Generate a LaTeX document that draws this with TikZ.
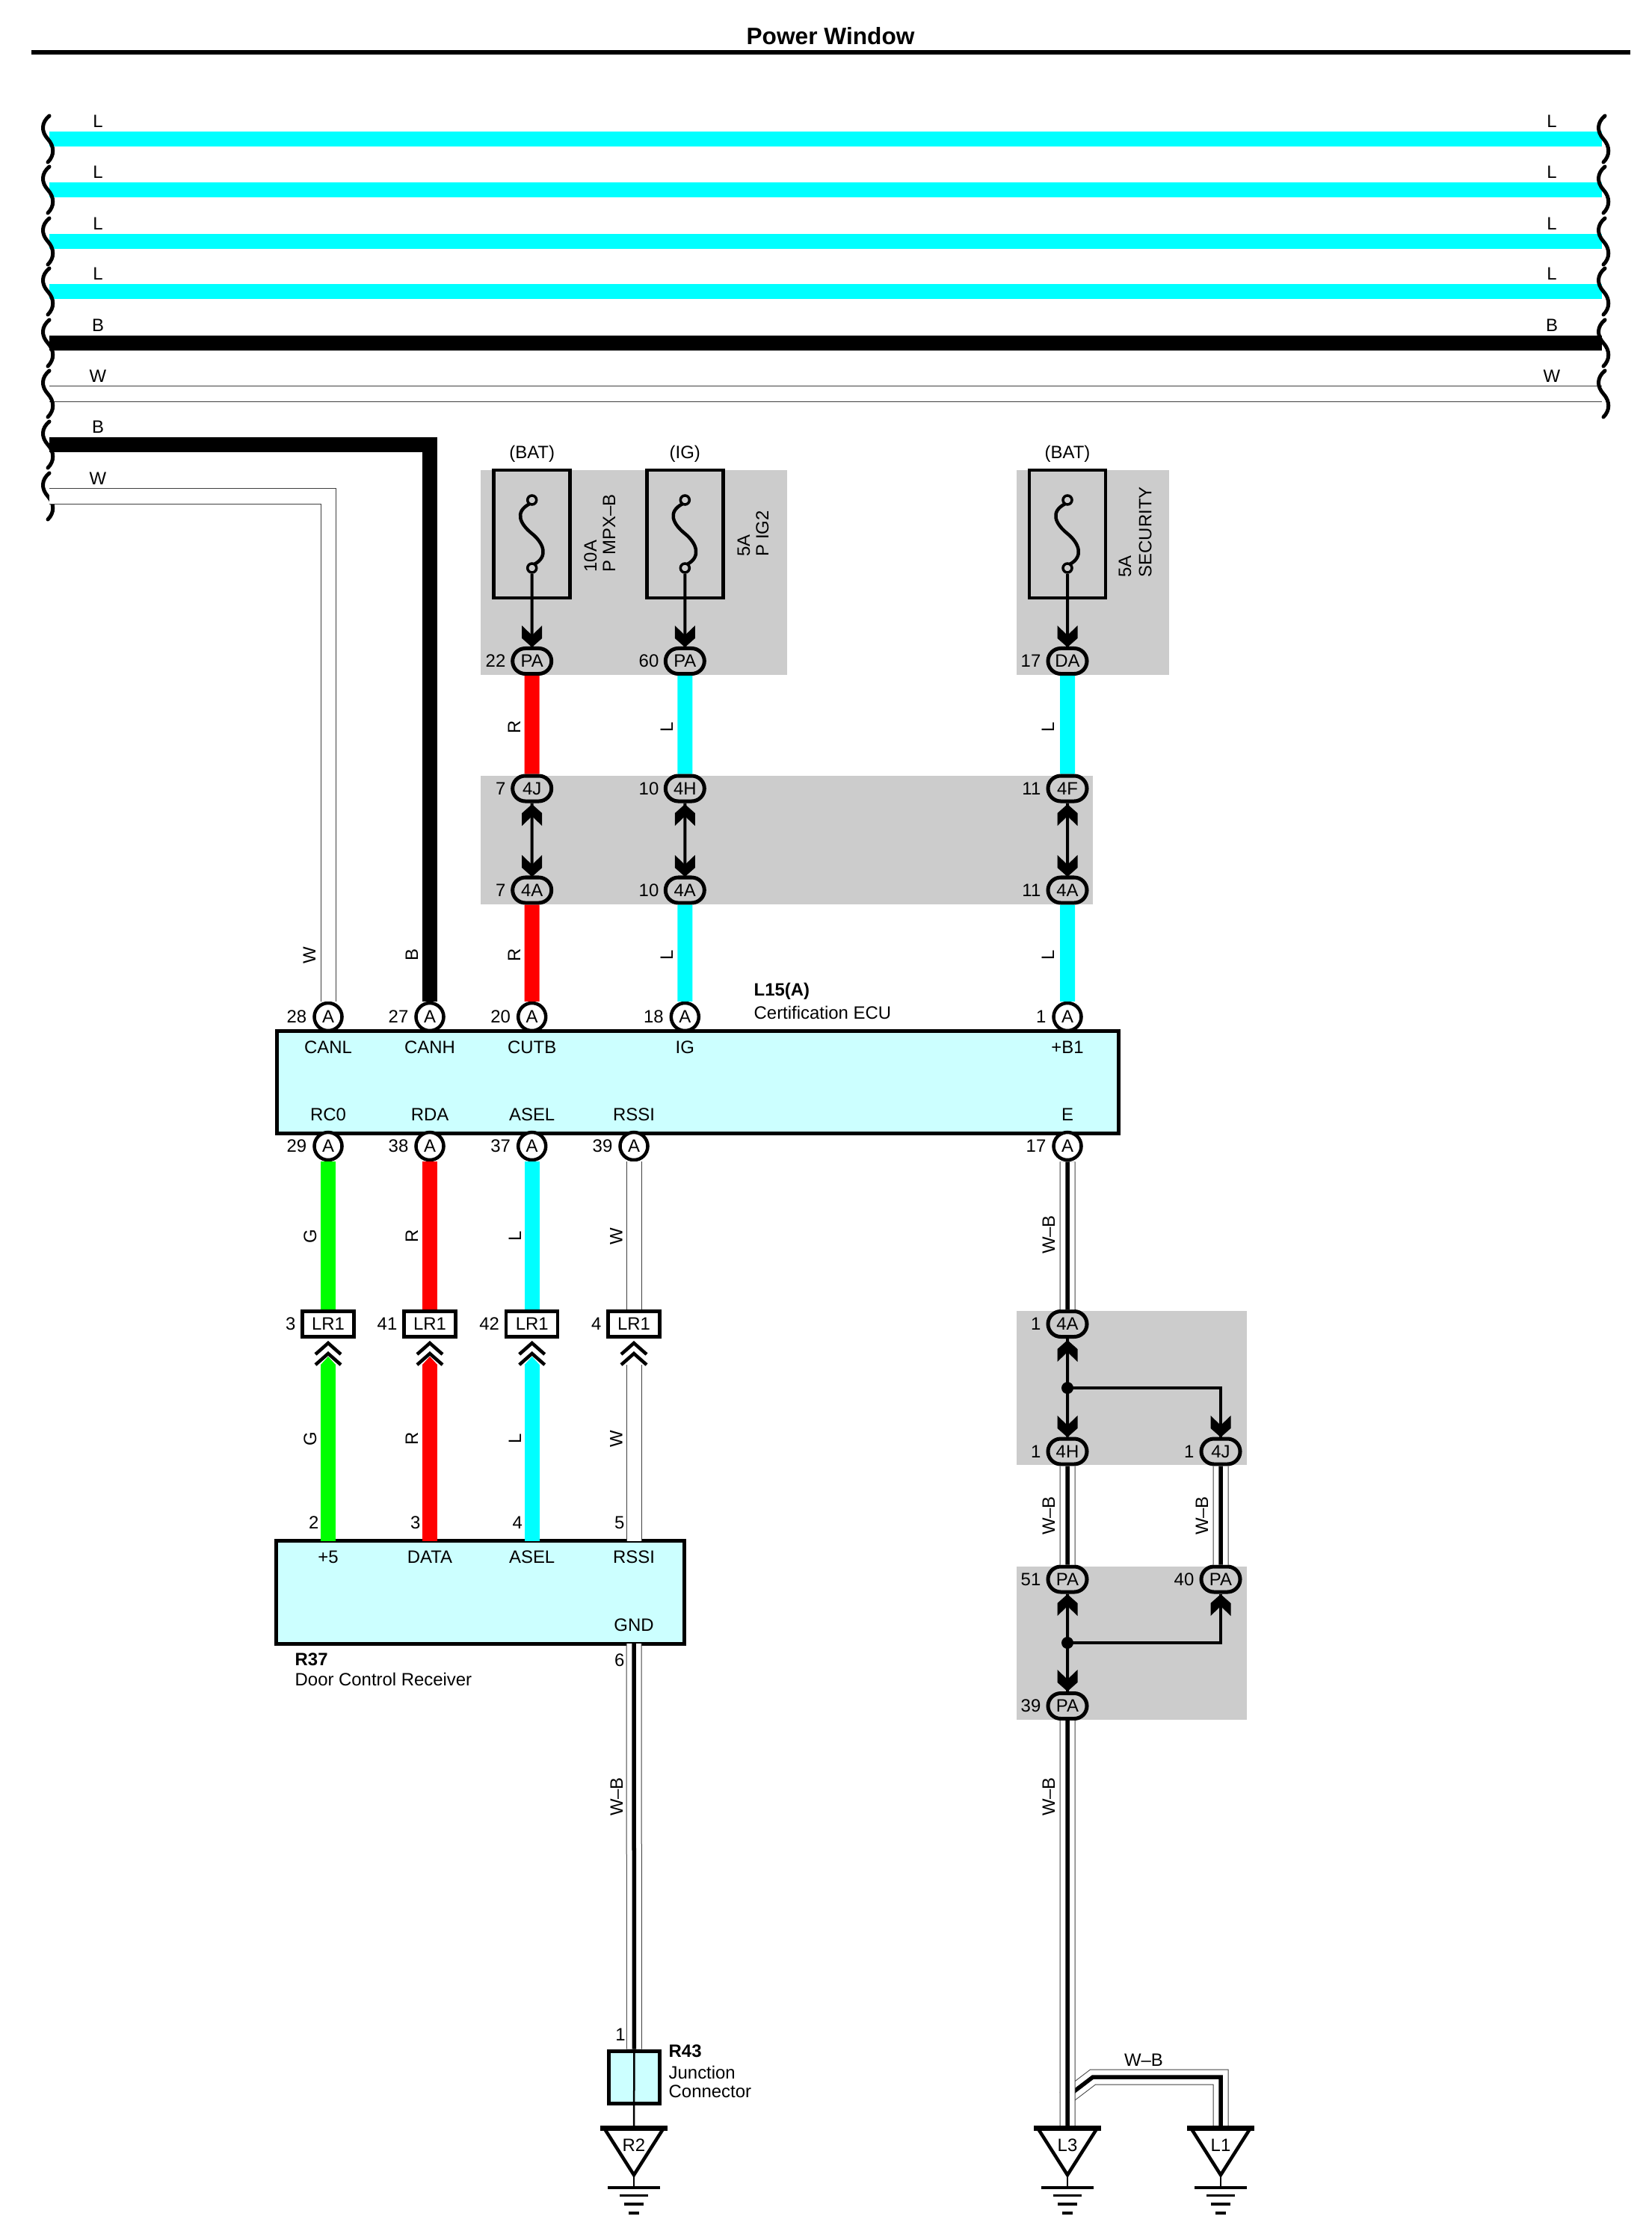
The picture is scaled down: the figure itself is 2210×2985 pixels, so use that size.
\documentclass[tikz,border=0pt]{standalone}
\usepackage{fontspec}
\setmainfont{Liberation Sans}
\usetikzlibrary{shapes.misc}
\definecolor{boxgray}{HTML}{CCCCCC}
\definecolor{ecucyan}{HTML}{CCFFFF}
\definecolor{linecyan}{HTML}{00FFFF}
\definecolor{linered}{HTML}{FF0000}
\definecolor{linegreen}{HTML}{00FF00}
\tikzset{
	every node/.style={font=\fontsize{6.8}{8}\selectfont,inner sep=0pt},
	num/.style={anchor=east},
	sidetext/.style={rotate=90},
	fusetext/.style={rotate=90,anchor=west},
	nametext/.style={anchor=west},
	pinA/.style={circle,draw,fill=white,line width=.045cm,minimum size=.37cm},
	oval/.style={rounded rectangle,draw,line width=.05cm,minimum width=.52cm,minimum height=.34cm},
	lrbox/.style={rectangle,draw,fill=white,line width=.045cm,minimum width=.69cm,minimum height=.34cm},
	ecubox/.style={rectangle,draw,fill=ecucyan,line width=.05cm},
	fusebox/.style={rectangle,draw,line width=.048cm,minimum width=1.02cm,minimum height=1.71cm},
	term/.style={circle,draw,line width=.035cm,minimum size=.12cm},
	wireL/.style={linecyan,line width=.2cm},
	wireR/.style={linered,line width=.2cm},
	wireG/.style={linegreen,line width=.2cm},
	wireB/.style={black,line width=.2cm},
	wireW/.style={black!75,line width=.01cm,double=white,double distance=.19cm},
	wireWB/.style={preaction={draw=black!75,line width=.01cm,double=white,double distance=.19cm},draw=black,line width=.055cm},
	feed/.style={line width=.04cm},
	pics/brk/.style={code={
		\draw[line width=.05cm,line cap=round] (2,-31) .. controls (-9,-22) and (-9,-10) .. (0,0) .. controls (9,10) and (9,22) .. (0,31);
	}},
	pics/headdn/.style={code={
		\fill (0,0) -- (13.5,-12) -- (13.5,-29) -- (0,-16) -- (-13.5,-29) -- (-13.5,-12) -- cycle;
	}},
	pics/headup/.style={code={
		\fill (0,0) -- (13.5,12) -- (13.5,29) -- (0,16) -- (-13.5,29) -- (-13.5,12) -- cycle;
	}},
	pics/lrup/.style={code={
		\fill[#1] (-10,29) -- (0,18) -- (10,29) -- cycle;
		\draw[line width=.045cm] (-17,15) -- (0,0) -- (17,15);
		\draw[line width=.045cm] (-17,29) -- (0,14) -- (17,29);
	}},
	pics/fusecurve/.style={code={
		\draw[line width=.045cm] (-3,5) .. controls (-24,16) and (-16,32) .. (0,45) .. controls (16,58) and (22,76) .. (3,86);
	}},
	pics/gnd/.style={code={
		\draw[line width=.045cm,line join=miter] (-40,0) -- (0,63) -- (40,0);
		\draw[line width=.07cm] (-45,0) -- (45,0);
		\draw[line width=.02cm] (0,63) -- (0,80);
		\draw[line width=.035cm] (-35,80) -- (35,80);
		\draw[line width=.035cm] (-19,90.5) -- (19,90.5);
		\draw[line width=.035cm] (-13,102) -- (13,102);
		\draw[line width=.035cm] (-7,114) -- (7,114);
	}},
}
\begin{document}
\begin{tikzpicture}[x=.01cm,y=-.01cm]
	\path[use as bounding box] (0,0) rectangle (2210,2985);
	\draw (1111,48) node [font=\fontsize{9}{10}\selectfont\bfseries] (title) {Power Window};
	\coordinate (ruleL) at (42,70);
	\coordinate (ruleR) at (2181,70);
	\draw[line width=.055cm] (ruleL) -- (ruleR);

	\fill[boxgray] (643,629) rectangle (1053,903);
	\fill[boxgray] (1360,629) rectangle (1564,903);
	\fill[boxgray] (643,1038) rectangle (1462,1210);
	\fill[boxgray] (1360,1754) rectangle (1668,1960);
	\fill[boxgray] (1360,2096) rectangle (1668,2301);

	\foreach \n/\y/\s/\t in {1/186/wireL/L,2/254/wireL/L,3/323/wireL/L,4/390/wireL/L,5/459/wireB/B,6/527/wireW/W} {
		\coordinate (busL\n) at (66,\y);
		\coordinate (busR\n) at (2143,\y);
		\draw[\s] (busL\n) -- (busR\n);
		\pic at (64,\y) {brk};
		\pic at (2145,\y) {brk};
		\draw (131,\y-24) node (tagL\n) {\t};
		\draw (2076,\y-24) node (tagR\n) {\t};
	}
	\pic at (64,595) {brk};
	\pic at (64,664) {brk};
	\draw (131,571) node (tagB) {B};
	\draw (131,640) node (tagW) {W};
	\coordinate (canhL) at (66,595);
	\coordinate (canlL) at (66,664);

	% fuses
	\draw (711.7,714.5) node [fusebox] (f1) {};
	\draw (916.3,714.5) node [fusebox] (f2) {};
	\draw (1428,714.5) node [fusebox] (f3) {};
	\draw (711.7,607.5) node (bat1) {(BAT)};
	\draw (916.3,607.5) node (ig) {(IG)};
	\draw (1428,607.5) node (bat2) {(BAT)};
	\draw (790,766) node [fusetext] (amp1) {10A};
	\draw (815,766) node [fusetext] (fn1) {P MPX--B};
	\draw (995,745) node [fusetext] (amp2) {5A};
	\draw (1020,745) node [fusetext] (fn2) {P IG2};
	\draw (1505,773) node [fusetext] (amp3) {5A};
	\draw (1532,773) node [fusetext] (fn3) {SECURITY};
	\foreach \n/\x in {1/711.7,2/916.3,3/1428} {
		\draw (\x,669) node [term] (tA\n) {};
		\draw (\x,760) node [term] (tB\n) {};
		\pic at (\x,669) {fusecurve};
	}

	% ovals
	\draw (711.7,884.5) node [oval] (pa22) {PA};
	\draw (916.3,884.5) node [oval] (pa60) {PA};
	\draw (1428,884.5) node [oval] (da17) {DA};
	\draw (711.7,1055) node [oval] (j4j) {4J};
	\draw (916.3,1055) node [oval] (j4h) {4H};
	\draw (1428,1055) node [oval] (j4f) {4F};
	\draw (711.7,1191) node [oval] (j4a7) {4A};
	\draw (916.3,1191) node [oval] (j4a10) {4A};
	\draw (1428,1191) node [oval] (j4a11) {4A};
	\draw (1428,1771.5) node [oval] (j4a1) {4A};
	\draw (1428,1942) node [oval] (j4h1) {4H};
	\draw (1633,1942) node [oval] (j4j1) {4J};
	\draw (1428,2113) node [oval] (pa51) {PA};
	\draw (1633,2113) node [oval] (pa40) {PA};
	\draw (1428,2282.5) node [oval] (pa39) {PA};
	\draw (677,884.5) node [num] (n22) {22};
	\draw (882,884.5) node [num] (n60) {60};
	\draw (1393,884.5) node [num] (n17) {17};
	\draw (677,1055) node [num] (n7a) {7};
	\draw (882,1055) node [num] (n10a) {10};
	\draw (1393,1055) node [num] (n11a) {11};
	\draw (677,1191) node [num] (n7b) {7};
	\draw (882,1191) node [num] (n10b) {10};
	\draw (1393,1191) node [num] (n11b) {11};
	\draw (1393,1771.5) node [num] (n1a) {1};
	\draw (1393,1942) node [num] (n1b) {1};
	\draw (1598,1942) node [num] (n1c) {1};
	\draw (1393,2113) node [num] (n51) {51};
	\draw (1598,2113) node [num] (n40) {40};
	\draw (1393,2282.5) node [num] (n39) {39};

	% ECU
	\draw (933.5,1448) node [ecubox,minimum width=11.25cm,minimum height=1.37cm] (ecu) {};
	\draw (1008,1326) node [nametext,font=\fontsize{6.8}{8}\selectfont\bfseries] (ecuid) {L15(A)};
	\draw (1008,1355) node [nametext] (ecuname) {Certification ECU};
	\foreach \x/\pin/\num/\sig in {439/a28/28/CANL,575/a27/27/CANH,711.7/a20/20/CUTB,916.3/a18/18/IG} {
		\draw (\x,1360.5) node [pinA] (\pin) {A};
		\draw (\x-28,1360.5) node [num] (num\pin) {\num};
		\draw (\x,1401) node (sig\pin) {\sig};
	}
	\draw (1428,1360.5) node [pinA] (a1) {A};
	\draw (1400,1360.5) node [num] (numa1) {1};
	\draw (1428,1401) node (siga1) {+B1};
	\foreach \x/\pin/\num/\sig in {439/a29/29/RC0,575/a38/38/RDA,711.7/a37/37/ASEL,848/a39/39/RSSI,1428/a17/17/E} {
		\draw (\x,1533.5) node [pinA] (\pin) {A};
		\draw (\x-28,1533.5) node [num] (num\pin) {\num};
		\draw (\x,1491) node (sig\pin) {\sig};
	}

	% receiver
	\foreach \x/\pin/\num in {439/lr3/3,575/lr41/41,711.7/lr42/42,848/lr4/4} {
		\draw (\x,1771.5) node [lrbox] (\pin) {LR1};
		\draw (\x-43,1771.5) node [num] (num\pin) {\num};
	}
	\draw (642.5,2130.5) node [ecubox,minimum width=5.45cm,minimum height=1.37cm] (rcv) {};
	\draw (394,2220) node [nametext,font=\fontsize{6.8}{8}\selectfont\bfseries] (rcvid) {R37};
	\draw (394,2247) node [nametext] (rcvname) {Door Control Receiver};
	\foreach \x/\n/\sig in {439/2/+5,575/3/DATA,711.7/4/ASEL,848/5/RSSI} {
		\draw (\x,2083) node (sigb\n) {\sig};
		\draw (\x-12,2037) node [num] (numb\n) {\n};
		\coordinate (in\n) at (\x,2062);
		\coordinate (up\n) at (\x,1826);
	}
	\draw (848,2174) node (gndsig) {GND};
	\draw (836,2221) node [num] (num6) {6};
	\coordinate (out6) at (848,2199);

	% junction and grounds
	\draw (848.5,2779) node [ecubox,minimum width=.68cm,minimum height=.70cm] (r43) {};
	\draw (830,2722) node (num1) {1};
	\draw (894,2744) node [nametext,font=\fontsize{6.8}{8}\selectfont\bfseries] (r43id) {R43};
	\draw (894,2773) node [nametext] (r43a) {Junction};
	\draw (894,2798) node [nametext] (r43b) {Connector};
	\coordinate (g1) at (848,2847);
	\coordinate (g2) at (1428,2847);
	\coordinate (g3) at (1633,2847);
	\coordinate (bra) at (1424,2808);
	\coordinate (brb) at (1462,2779);
	\coordinate (brc) at (1633,2779);
	\coordinate (dot1) at (1428,1857);
	\coordinate (dot2) at (1428,2198);

	% wires
	\draw[wireB] (canhL) -| (a27);
	\draw[wireW] (canlL) -| (a28);
	\draw[wireR] (pa22) -- (j4j);
	\draw[wireL] (pa60) -- (j4h);
	\draw[wireL] (da17) -- (j4f);
	\draw[wireR] (j4a7) -- (a20);
	\draw[wireL] (j4a10) -- (a18);
	\draw[wireL] (j4a11) -- (a1);
	\draw[wireG] (a29) -- (lr3);
	\draw[wireR] (a38) -- (lr41);
	\draw[wireL] (a37) -- (lr42);
	\draw[wireW] (a39) -- (lr4);
	\draw[wireG] (up2) -- (in2);
	\draw[wireR] (up3) -- (in3);
	\draw[wireL] (up4) -- (in4);
	\draw[wireW] (up5) -- (in5);
	\draw[wireWB] (a17) -- (j4a1);
	\draw[wireWB] (j4h1) -- (pa51);
	\draw[wireWB] (j4j1) -- (pa40);
	\draw[wireWB] (bra) -- (brb) -- (brc) -- (g3);
	\draw[wireWB] (pa39) -- (g2);
	\draw[wireWB] (out6) -- (r43);
	\draw[line width=.025cm] (r43.north) -- (g1);
	\pic at (439,1797) {lrup=linegreen};
	\pic at (575,1797) {lrup=linered};
	\pic at (711.7,1797) {lrup=linecyan};
	\pic at (848,1797) {lrup=white};

	% feeds inside the grey parts
	\draw[feed] (tB1) -- (pa22);
	\draw[feed] (tB2) -- (pa60);
	\draw[feed] (tB3) -- (da17);
	\draw[feed] (j4j) -- (j4a7);
	\draw[feed] (j4h) -- (j4a10);
	\draw[feed] (j4f) -- (j4a11);
	\draw[feed] (j4a1) -- (j4h1);
	\draw[feed] (dot1) -| (j4j1);
	\draw[feed] (pa51) -- (pa39);
	\draw[feed] (dot2) -| (pa40);
	\fill (dot1) circle (8);
	\fill (dot2) circle (8);
	\foreach \x in {711.7,916.3,1428} {
		\pic at (\x,866) {headdn};
		\pic at (\x,1076) {headup};
		\pic at (\x,1173) {headdn};
	}
	\pic at (1428,1793) {headup};
	\pic at (1428,1923) {headdn};
	\pic at (1633,1923) {headdn};
	\pic at (1428,2133) {headup};
	\pic at (1633,2133) {headup};
	\pic at (1428,2263) {headdn};

	\pic at (848,2847) {gnd};
	\pic at (1428,2847) {gnd};
	\pic at (1633,2847) {gnd};
	\draw (848,2870) node (r2) {R2};
	\draw (1428,2870) node (l3) {L3};
	\draw (1633,2870) node (l1) {L1};

	% wire letters
	\draw (414,1278) node [sidetext] (colW1) {W};
	\draw (551,1278) node [sidetext] (colB1) {B};
	\draw (688,1278) node [sidetext] (colR1) {R};
	\draw (892,1278) node [sidetext] (colL1) {L};
	\draw (1402,1278) node [sidetext] (colL2) {L};
	\draw (688,973) node [sidetext] (colR2) {R};
	\draw (892,973) node [sidetext] (colL3) {L};
	\draw (1402,973) node [sidetext] (colL4) {L};
	\draw (415,1654) node [sidetext] (colG1) {G};
	\draw (551,1654) node [sidetext] (colR3) {R};
	\draw (689,1654) node [sidetext] (colL5) {L};
	\draw (824.5,1654) node [sidetext] (colW2) {W};
	\draw (415,1925) node [sidetext] (colG2) {G};
	\draw (551,1925) node [sidetext] (colR4) {R};
	\draw (689,1925) node [sidetext] (colL6) {L};
	\draw (824.5,1925) node [sidetext] (colW3) {W};
	\draw (1403,1652) node [sidetext] (colWB1) {W--B};
	\draw (1403,2028) node [sidetext] (colWB2) {W--B};
	\draw (1608,2028) node [sidetext] (colWB3) {W--B};
	\draw (1403,2404) node [sidetext] (colWB4) {W--B};
	\draw (825,2404) node [sidetext] (colWB5) {W--B};
	\draw (1530,2756) node (colWB6) {W--B};
\end{tikzpicture}
\end{document}
